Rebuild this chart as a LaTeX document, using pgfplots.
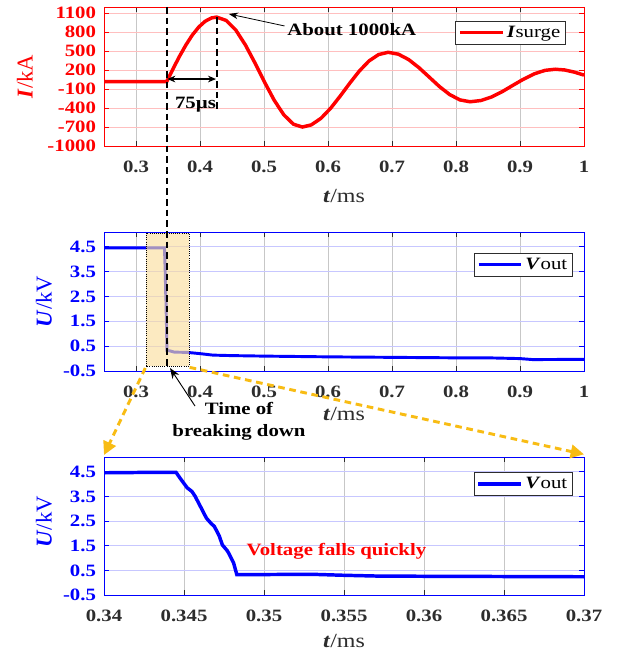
\documentclass[border=0pt]{standalone}
\usepackage{fontspec}
\setmainfont[FakeStretch=1.2]{Liberation Serif}
\newfontfamily\ylabfont{Liberation Serif}
\usepackage{pgfplots}
\pgfplotsset{compat=1.18}
\usetikzlibrary{arrows.meta}
\definecolor{mgray}{RGB}{45,45,45}
\definecolor{gold}{RGB}{248,188,20}
\definecolor{boxfill}{RGB}{250,222,160}

\pgfplotstableread{
t I
0.25 20
0.30 20
0.348 20
0.358 224
0.368 420
0.378 599
0.388 756
0.398 882
0.408 974
0.418 1027
0.426 1040
0.441 987
0.456 834
0.471 598
0.486 312
0.501 8
0.516 -277
0.531 -507
0.546 -655
0.560 -700
0.574 -665
0.589 -562
0.604 -404
0.619 -211
0.634 -6
0.649 187
0.664 345
0.679 447
0.694 483
0.710 453
0.726 368
0.742 241
0.758 92
0.774 -58
0.790 -185
0.806 -270
0.822 -300
0.839 -280
0.855 -226
0.872 -141
0.889 -39
0.905 55
0.922 141
0.939 197
0.955 215
0.970 203
0.985 169
1.000 122
}\currenttab

\pgfplotstableread{
t V
0.25 4.46
0.30 4.46
0.3445 4.46
0.3452 3.85
0.3457 3.5
0.3464 2.62
0.3469 2.28
0.3474 1.53
0.3478 1.19
0.3483 0.33
0.353 0.31
0.36 0.26
0.38 0.25
0.40 0.20
0.42 0.14
0.45 0.12
0.50 0.10
0.60 0.07
0.70 0.05
0.80 0.03
0.85 0.03
0.90 0.00
0.92 -0.04
1.00 -0.03
}\vouttab

\pgfplotstableread{
t V
0.340 4.46
0.3435 4.48
0.3445 4.48
0.3448 4.20
0.3452 3.85
0.3455 3.70
0.3457 3.50
0.3461 3.00
0.3464 2.62
0.3467 2.40
0.3469 2.28
0.3472 1.90
0.3474 1.53
0.3477 1.30
0.3478 1.19
0.3481 0.80
0.3483 0.33
0.350 0.33
0.353 0.34
0.355 0.30
0.357 0.27
0.360 0.26
0.365 0.25
0.370 0.24
}\zoomtab

\pgfplotsset{
  myax/.style={
    scale only axis, width=360pt, anchor=north west,
    clip mode=individual,
    tick align=inside, tick pos=both, major tick length=3.5pt,
    xmajorgrids, ymajorgrids,
    x grid style={black!22, line width=0.6pt},
    axis line style={mgray, line width=0.7pt},
    xtick style={mgray, line width=0.6pt},
    tick label style={font=\fontsize{13}{15}\selectfont\bfseries},
    xticklabel style={text=mgray, yshift=-7.5pt},
    yticklabel style={xshift=-2.5pt},
    xlabel={\textbf{\textit{t}}/ms},
    xlabel style={font=\fontsize{15}{17}\selectfont, text=mgray, anchor=center},
    ylabel style={anchor=center, font=\ylabfont\fontsize{17}{19}\selectfont},
    legend style={font=\fontsize{13}{15}\selectfont, draw=mgray, line width=0.6pt,
      inner xsep=2pt, inner ysep=1.5pt, anchor=north east, legend cell align=left},
    legend image code/.code={\draw[#1] (0pt,0pt) -- (32pt,0pt);},
  },
  vax/.style={
    ymin=-0.5, ymax=5.1,
    ytick={-0.5,0.5,1.5,2.5,3.5,4.5},
    yticklabels={-0.5,0.5,1.5,2.5,3.5,4.5},
    yticklabel style={text=blue},
    ytick style={blue, line width=0.6pt},
    y axis line style={blue},
    y grid style={blue!22, line width=0.6pt},
    ylabel={\textbf{\textit{U}}/kV},
    ylabel style={text=blue},
  }
}

\begin{document}
\begin{tikzpicture}
\useasboundingbox (0,0) rectangle (465pt,-495pt);

% ---------- top axis: current ----------
\begin{axis}[myax, at={(78pt,-5.25pt)}, height=104.25pt,
  xmin=0.25, xmax=1,
  xtick={0.3,0.4,0.5,0.6,0.7,0.8,0.9,1},
  xticklabels={0.3,0.4,0.5,0.6,0.7,0.8,0.9,1},
  ymin=-1000, ymax=1200,
  ytick={-1000,-700,-400,-100,200,500,800,1100},
  yticklabels={-1000,-700,-400,-100,200,500,800,1100},
  yticklabel style={text=red},
  ytick style={red, line width=0.6pt},
  y axis line style={red},
  y grid style={red!25, line width=0.6pt},
  ylabel={\textbf{\textit{I}}/kA},
  ylabel style={text=red, at={(axis description cs:-0.165,0.5)}},
  xlabel style={at={(axis description cs:0.5,-0.36)}},
  legend style={at={(axis description cs:0.9625,0.9)}},
]
\addplot[red, line width=2.6pt] table[x=t, y=I] {\currenttab};
\addlegendentry{\textbf{\textit{I}}surge}
\coordinate (dA) at (axis cs:0.348,1200);
\draw[black, line width=1.4pt, dash pattern=on 5pt off 3pt] (axis cs:0.426,1040) -- (axis cs:0.426,-440);
\draw[black, line width=1pt, {Stealth[length=6pt,width=5pt]}-{Stealth[length=6pt,width=5pt]}] (axis cs:0.349,60) -- (axis cs:0.425,60);
\node[font=\fontsize{13}{15}\selectfont\bfseries, inner sep=0pt] at (axis cs:0.393,-350) {75µs};
\draw[black, line width=0.6pt, -{Stealth[length=7pt,width=5pt]}] (axis cs:0.532,900) -- (axis cs:0.445,1090);
\node[font=\fontsize{13}{15}\selectfont\bfseries, inner sep=0pt, anchor=west] at (axis cs:0.536,836) {About 1000kA};
\end{axis}

% ---------- middle axis: voltage ----------
\begin{axis}[myax, vax, at={(78pt,-174pt)}, height=104.25pt,
  xmin=0.25, xmax=1,
  xtick={0.3,0.4,0.5,0.6,0.7,0.8,0.9,1},
  xticklabels={0.3,0.4,0.5,0.6,0.7,0.8,0.9,1},
  ylabel style={at={(axis description cs:-0.125,0.5)}},
  xlabel style={at={(axis description cs:0.5,-0.31)}},
  legend style={at={(axis description cs:0.977,0.85)}},
]
\addplot[blue, line width=2.2pt] table[x=t, y=V] {\vouttab};
\addlegendentry{\textbf{\textit{V}}out}
\fill[boxfill, fill opacity=0.65] (axis cs:0.3156,5.06) rectangle (axis cs:0.3828,-0.3);
\draw[black, densely dotted, line width=0.6pt] (axis cs:0.3156,5.06) rectangle (axis cs:0.3828,-0.3);
\coordinate (dB) at (axis cs:0.348,-0.3);
\coordinate (bL) at (axis cs:0.3156,-0.3);
\coordinate (bR) at (axis cs:0.3828,-0.3);
\end{axis}

% ---------- bottom axis: zoom ----------
\begin{axis}[myax, vax, at={(78pt,-342.75pt)}, height=103.5pt,
  xmin=0.34, xmax=0.37,
  xtick={0.34,0.345,0.35,0.355,0.36,0.365,0.37},
  xticklabels={0.34,0.345,0.35,0.355,0.36,0.365,0.37},
  ylabel style={at={(axis description cs:-0.125,0.53)}},
  xlabel style={at={(axis description cs:0.5,-0.335)}},
  legend style={at={(axis description cs:0.977,0.891)}},
]
\addplot[blue, line width=2.6pt] table[x=t, y=V] {\zoomtab};
\addlegendentry{\textbf{\textit{V}}out}
\node[font=\fontsize{13}{15}\selectfont\bfseries, text=red, inner sep=0pt] at (axis cs:0.35453,1.28) {Voltage falls quickly};
\coordinate (zL) at (axis cs:0.34,5.1);
\coordinate (zR) at (axis cs:0.37,5.1);
\end{axis}

% ---------- annotations across axes ----------
\draw[black, line width=1.4pt, dash pattern=on 5pt off 3pt] (dA) -- (dB);
\draw[gold, line width=2.2pt, dash pattern=on 5pt off 3.5pt, -{Triangle[length=10pt,width=10pt]}] ([xshift=-0.5pt,yshift=-1.5pt]bL) -- ([yshift=1.5pt]zL);
\draw[gold, line width=2.2pt, dash pattern=on 5pt off 3.5pt, -{Triangle[length=10pt,width=10pt]}] ([xshift=0.5pt,yshift=-1pt]bR) -- ([yshift=2pt]zR);
\begin{scope}[x=0.75pt, y=-0.75pt]
\draw[black, line width=0.7pt, -{Stealth[length=8pt,width=6pt]}] (195,406) -- (170,368);
\node[font=\fontsize{13}{16.5}\selectfont\bfseries, align=center, inner sep=0pt] at (239,421) {Time of\\breaking down};
\end{scope}
\end{tikzpicture}
\end{document}
